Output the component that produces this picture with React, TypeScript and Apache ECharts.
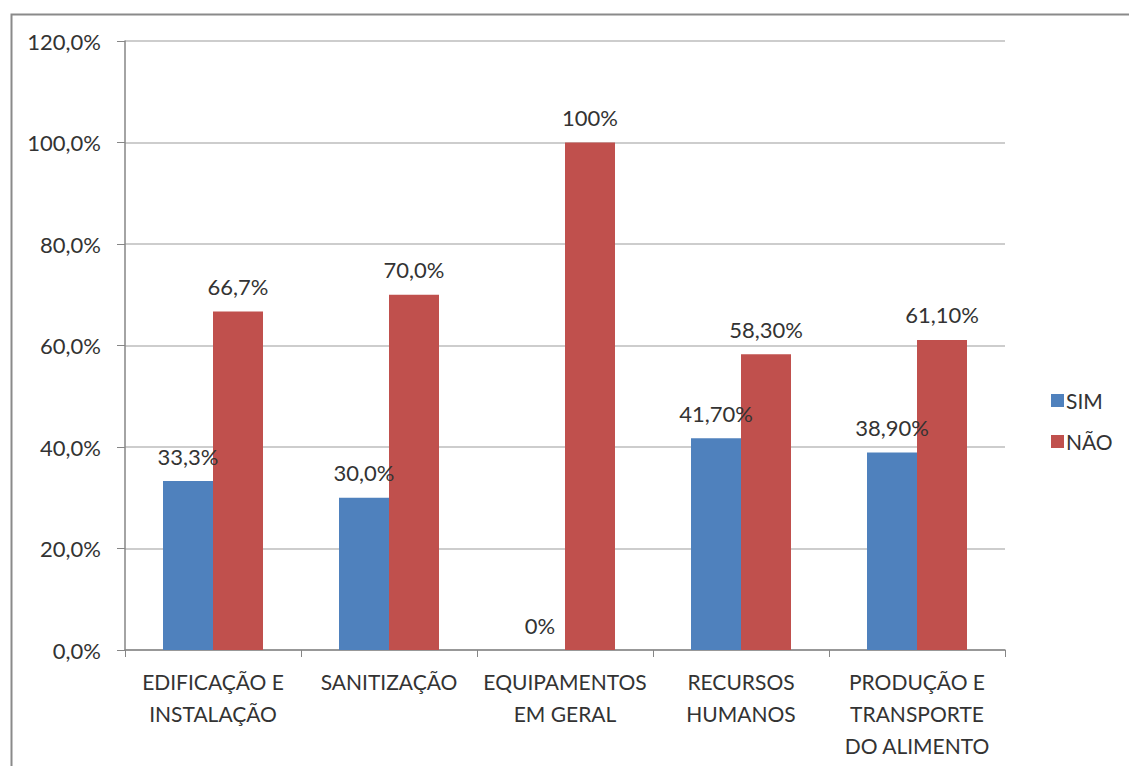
import React, { useEffect, useRef } from "react";
import * as echarts from "echarts";

const categories = [
  "EDIFICAÇÃO E\nINSTALAÇÃO",
  "SANITIZAÇÃO",
  "EQUIPAMENTOS\nEM GERAL",
  "RECURSOS\nHUMANOS",
  "PRODUÇÃO E\nTRANSPORTE\nDO ALIMENTO",
];
const simValues = [33.3, 30.0, 0, 41.7, 38.9];
const naoValues = [66.7, 70.0, 100, 58.3, 61.1];
const simLabels = ["33,3%", "30,0%", "0%", "41,70%", "38,90%"];
const naoLabels = ["66,7%", "70,0%", "100%", "58,30%", "61,10%"];
const yTickLabels = ["0,0%", "20,0%", "40,0%", "60,0%", "80,0%", "100,0%", "120,0%"];

const FONT = "Lato, 'Noto Sans', sans-serif";
const TEXT = "#333333";

export default function App() {
  const ref = useRef<HTMLDivElement>(null);

  useEffect(() => {
    if (!ref.current) return;
    const chart = echarts.init(ref.current, null, { renderer: "svg" });
    const valueLabel = (labels: string[]) => ({
      show: true,
      position: "top",
      distance: 14,
      fontFamily: FONT,
      fontSize: 22,
      color: TEXT,
      formatter: (p: any) => labels[p.dataIndex],
    });
    chart.setOption({
      animation: false,
      backgroundColor: "#ffffff",
      textStyle: { fontFamily: FONT, color: TEXT },
      graphic: [
        {
          type: "rect",
          left: 9,
          top: 12,
          shape: { width: 1300, height: 900 },
          style: { fill: "none", stroke: "#8a8a8a", lineWidth: 2 },
          silent: true,
        },
      ],
      grid: { left: 125, right: 124, top: 41, bottom: 116 },
      legend: {
        orient: "vertical",
        left: 1046,
        top: 385,
        itemWidth: 13,
        itemHeight: 13,
        itemGap: 20,
        icon: "rect",
        textStyle: { fontFamily: FONT, fontSize: 21, color: TEXT, padding: [0, 0, 0, -3] },
        data: ["SIM", "NÃO"],
      },
      xAxis: {
        type: "category",
        data: categories,
        axisLine: { lineStyle: { color: "#868686", width: 1.5 } },
        axisTick: { show: true, length: 7, lineStyle: { color: "#868686" } },
        axisLabel: {
          fontFamily: FONT,
          fontSize: 21,
          color: TEXT,
          lineHeight: 32,
          margin: 15,
          interval: 0,
        },
      },
      yAxis: {
        type: "value",
        min: 0,
        max: 120,
        interval: 20,
        axisLine: { show: true, lineStyle: { color: "#868686", width: 1.5 } },
        axisTick: { show: true, length: 8, lineStyle: { color: "#868686" } },
        splitLine: { lineStyle: { color: "#bdbdbd", width: 1.5 } },
        axisLabel: {
          fontFamily: FONT,
          fontSize: 22,
          color: TEXT,
          margin: 24,
          formatter: (v: number) => yTickLabels[Math.round(v / 20)],
        },
      },
      series: [
        {
          name: "SIM",
          type: "bar",
          data: simValues,
          barWidth: 50,
          barGap: "0%",
          itemStyle: { color: "#4f81bd" },
          label: valueLabel(simLabels),
        },
        {
          name: "NÃO",
          type: "bar",
          data: naoValues,
          barWidth: 50,
          barGap: "0%",
          itemStyle: { color: "#c0504d" },
          label: valueLabel(naoLabels),
        },
      ],
    });
    return () => chart.dispose();
  }, []);

  return (
    <div
      ref={ref}
      style={{ position: "fixed", left: 0, top: 0, width: 1129, height: 766 }}
    />
  );
}
